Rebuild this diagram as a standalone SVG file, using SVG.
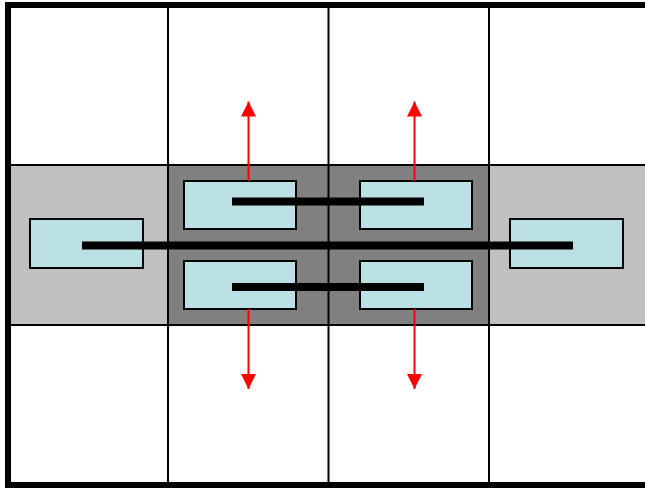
<svg xmlns="http://www.w3.org/2000/svg" width="645" height="488" viewBox="0 0 645 488">
  <defs>
    <style>
      .grid { stroke: #000; stroke-width: 2; fill: none; }
      .cell-light { fill: #c0c0c0; }
      .cell-dark { fill: #808080; }
      .box { fill: #bae0e3; stroke: #000; stroke-width: 2; }
      .bar { stroke: #000; stroke-width: 8; fill: none; }
      .arrow { stroke: #ff0000; stroke-width: 2; fill: none; marker-end: url(#head); }
    </style>
    <marker id="head" viewBox="0 0 15 15" refX="15" refY="7.5" markerWidth="15" markerHeight="15" markerUnits="userSpaceOnUse" orient="auto">
      <path d="M0,0 L15,7.5 L0,15 Z" fill="#ff0000"/>
    </marker>
  </defs>

  <rect x="0" y="0" width="645" height="488" fill="#fff"/>

  <!-- middle row shading -->
  <g id="row-fill">
    <rect class="cell-light" x="8" y="165" width="160" height="160"/>
    <rect class="cell-dark" x="168" y="165" width="321" height="160"/>
    <rect class="cell-light" x="489" y="165" width="160" height="160"/>
  </g>

  <!-- grid lines -->
  <g id="grid">
    <line class="grid" x1="168" y1="5" x2="168" y2="485"/>
    <line class="grid" x1="328.5" y1="5" x2="328.5" y2="485"/>
    <line class="grid" x1="489" y1="5" x2="489" y2="485"/>
    <line class="grid" x1="8" y1="165" x2="645" y2="165"/>
    <line class="grid" x1="8" y1="325" x2="645" y2="325"/>
    <line class="grid" x1="168" y1="245" x2="489" y2="245"/>
  </g>

  <!-- outer frame -->
  <path d="M650,5 L8,5 L8,485 L650,485" fill="none" stroke="#000" stroke-width="6"/>

  <!-- blocks -->
  <g id="block-left"><rect class="box" x="30" y="219" width="113" height="49"/></g>
  <g id="block-right"><rect class="box" x="510" y="219" width="113" height="49"/></g>
  <g id="block-upper-left"><rect class="box" x="184" y="181" width="112" height="48"/></g>
  <g id="block-upper-right"><rect class="box" x="360" y="181" width="112" height="48"/></g>
  <g id="block-lower-left"><rect class="box" x="184" y="261" width="112" height="48"/></g>
  <g id="block-lower-right"><rect class="box" x="360" y="261" width="112" height="48"/></g>

  <!-- connectors -->
  <g id="connectors">
    <line class="bar" x1="82" y1="245.5" x2="573" y2="245.5"/>
    <line class="bar" x1="232" y1="201.5" x2="424" y2="201.5"/>
    <line class="bar" x1="232" y1="287" x2="424" y2="287"/>
    <line class="arrow" x1="248.5" y1="181" x2="248.5" y2="101.5"/>
    <line class="arrow" x1="414.5" y1="181" x2="414.5" y2="101.5"/>
    <line class="arrow" x1="248.5" y1="309" x2="248.5" y2="389"/>
    <line class="arrow" x1="414.5" y1="309" x2="414.5" y2="389"/>
  </g>
</svg>
